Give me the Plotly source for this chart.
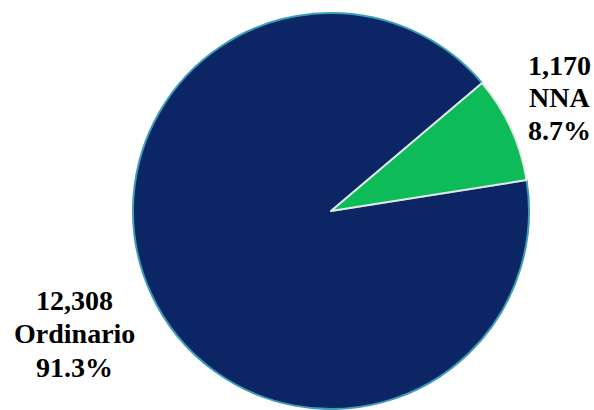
import plotly.graph_objects as go

labels = ["Ordinario", "NNA"]
values = [12308, 1170]
colors = ["#0B2565", "#0DBB58"]
line_colors = ["#3E9DB6", "#E6E6E6"]

W, H = 594, 410
total = sum(values)
pcts = [v / total * 100 for v in values]

fig = go.Figure()
fig.add_trace(go.Pie(
    labels=labels,
    values=values,
    sort=False,
    direction="clockwise",
    rotation=81,
    textinfo="none",
    hoverinfo="label+value+percent",
    marker=dict(colors=colors, line=dict(color=line_colors, width=2)),
    domain=dict(x=[133 / W, 529 / W], y=[1 - 409 / H, 1 - 13 / H]),
    showlegend=False,
))

# label blocks (x centre, y centre of first line, line step) in pixels
label_pos = {"Ordinario": (74, 300, 33.5), "NNA": (559, 65, 32.5)}
for lab, val, pct in zip(labels, values, pcts):
    cx, cy, step = label_pos[lab]
    lines = [f"{val:,}", lab, f"{pct:.1f}%"]
    for i, t in enumerate(lines):
        fig.add_annotation(
            x=cx / W, y=1 - (cy + i * step) / H, xref="paper", yref="paper",
            text=f"<b>{t}</b>", showarrow=False, xanchor="center", yanchor="middle",
            font=dict(family="Liberation Serif, Times New Roman, serif", size=28, color="#000000"),
        )

fig.update_layout(
    width=W, height=H,
    margin=dict(l=0, r=0, t=0, b=0),
    paper_bgcolor="white", plot_bgcolor="white",
)
fig.write_html(
    "out.html",
    config={"displayModeBar": False},
    post_script="document.body.style.margin='0';document.body.style.overflow='hidden';",
)
